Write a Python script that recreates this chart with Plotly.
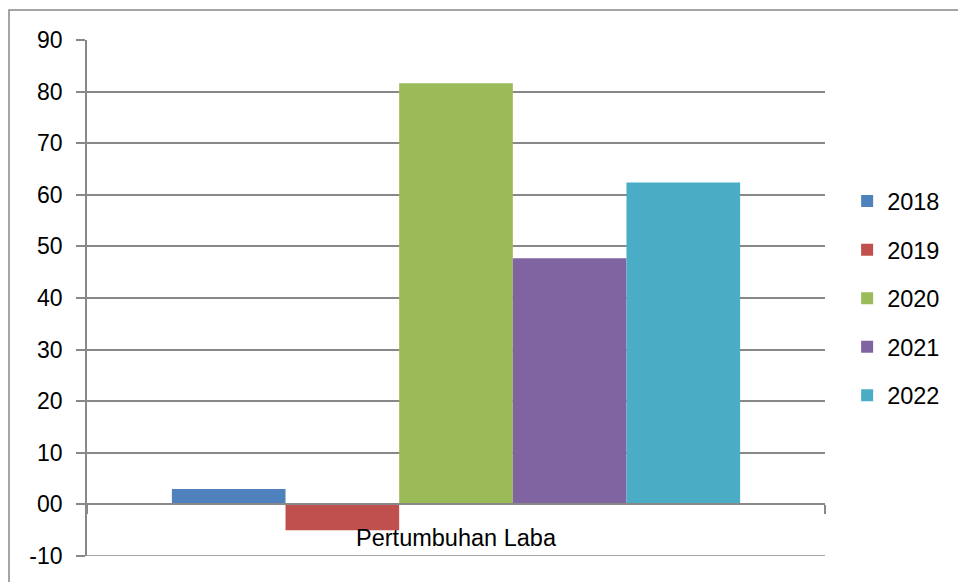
import plotly.graph_objects as go

categories = ["Pertumbuhan Laba"]
years = ["2018", "2019", "2020", "2021", "2022"]
values = [3.0, -5.0, 81.6, 47.7, 62.4]
colors = ["#4F81BD", "#C0504D", "#9BBB59", "#8064A2", "#4BACC6"]
tick_vals = [-10, 0, 10, 20, 30, 40, 50, 60, 70, 80, 90]
tick_text = ["-10", "00", "10", "20", "30", "40", "50", "60", "70", "80", "90"]

FONT = "Liberation Sans"
GRID = "#888888"

fig = go.Figure()
for i, (y, v, c) in enumerate(zip(years, values, colors)):
    fig.add_trace(go.Bar(x=categories, y=[v], name=y, marker_color=c,
                         marker_line_width=0, legendgroup=y))

fig.update_layout(
    width=958, height=582,
    margin=dict(l=87, r=133, t=40, b=26, autoexpand=False),
    paper_bgcolor="white", plot_bgcolor="white",
    barmode="group", bargap=0.23, bargroupgap=0,
    font=dict(family=FONT, color="black", size=23),
    legend=dict(x=1.03, y=0.73, xanchor="left", yanchor="top",
                font=dict(size=23.5, family=FONT), tracegroupgap=15,
                bgcolor="rgba(0,0,0,0)", itemwidth=30),
    showlegend=True,
)
fig.update_yaxes(range=[-10, 90], tickvals=tick_vals, ticktext=tick_text,
                 showgrid=True, gridcolor=GRID, gridwidth=1.6,
                 showline=True, linecolor=GRID, linewidth=1.6,
                 ticks="outside", ticklen=9, tickcolor=GRID, tickwidth=1.6,
                 zeroline=False, tickfont=dict(size=23, family=FONT),
                 ticklabelstandoff=9)
fig.update_xaxes(type="category", anchor="free", position=0.1,
                 showline=True, linecolor=GRID, linewidth=1.6,
                 ticks="outside", ticklen=9, tickcolor=GRID, tickwidth=1.6,
                 tickson="boundaries", showgrid=False,
                 tickfont=dict(size=23.5, family=FONT), ticklabelstandoff=13)
# bottom gridline at the lower range edge
fig.add_shape(type="line", xref="paper", yref="y", x0=0, x1=1, y0=-10, y1=-10,
              line=dict(color=GRID, width=1.6), layer="below")
fig.add_shape(type="rect", xref="paper", yref="paper",
              x0=(9 - 87) / 738, x1=1.3, y0=-0.2, y1=1 + (40 - 10) / 516,
              line=dict(color=GRID, width=1.5), fillcolor="rgba(0,0,0,0)", layer="below")

fig.write_html("out.html")
